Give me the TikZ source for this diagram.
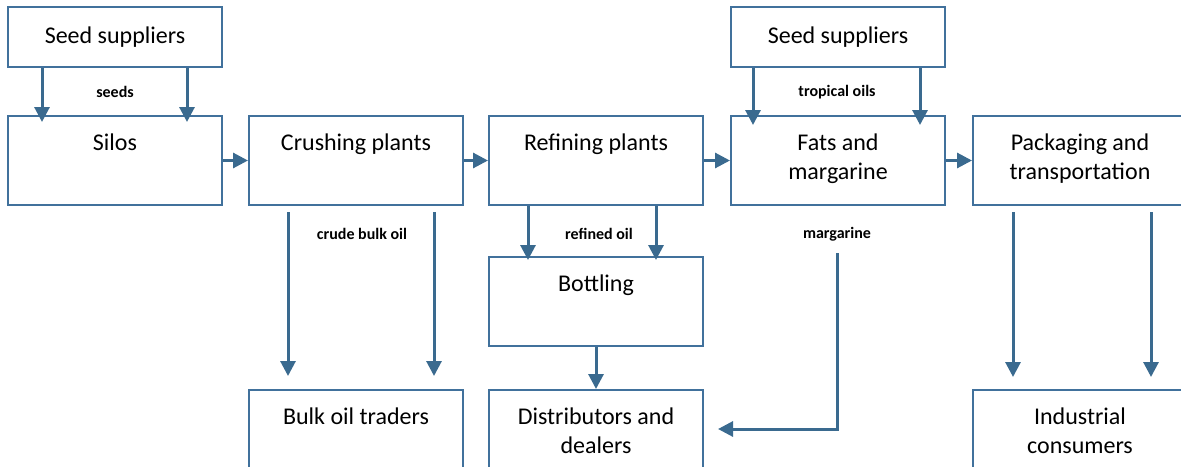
\documentclass[tikz,border=0pt]{standalone}
\usepackage{fontspec}
\setmainfont{Carlito}
\usetikzlibrary{arrows.meta,calc}
\definecolor{boxcol}{RGB}{65,113,156}
\definecolor{arrcol}{RGB}{58,106,143}
\begin{document}
\begin{tikzpicture}[x=0.5pt,y=-0.5pt,
  box/.style={draw=boxcol,line width=1pt,rectangle,minimum width=107pt,minimum height=44.5pt,inner sep=0pt},
  seedbox/.style={box,minimum height=30pt},
  txt/.style={label={[font=\fontsize{12}{14.5}\selectfont,align=center,anchor=base,yshift=-17.5pt,inner sep=0pt]north:#1}},
  txttwo/.style={label={[font=\fontsize{12}{14.5}\selectfont,align=center,anchor=base,yshift=-32pt,inner sep=0pt]north:#1}},
  flow/.style={draw=arrcol,line width=1.5pt,-{Triangle[length=7.5pt,width=7.5pt]}},
  lbl/.style={font=\fontsize{8}{9.6}\selectfont\bfseries,inner sep=0pt}]
\path[use as bounding box] (0,0) rectangle (1181,466);
\clip (0,0) rectangle (1181,466);
% boxes
\node[seedbox] (seedL) at (115,37) {};
\node at (seedL.center) [font=\fontsize{12}{14.5}\selectfont,inner sep=0pt,yshift=0pt] (seedLt) {Seed suppliers};
\node[seedbox] (seedR) at (838,37) {};
\node at (seedR.center) [font=\fontsize{12}{14.5}\selectfont,inner sep=0pt,yshift=0pt] (seedRt) {Seed suppliers};
\node[box,txt={Silos}] (silos) at (115,160.5) {};
\node[box,txt={Crushing plants}] (crush) at (356,160.5) {};
\node[box,txt={Refining plants}] (refine) at (596,160.5) {};
\node[box,txttwo={Fats and\\margarine}] (fats) at (838,160.5) {};
\node[box,txttwo={Packaging and\\transportation}] (pack) at (1080,160.5) {};
\node[box,txt={Bottling}] (bottle) at (596,301.5) {};
\node[box,txt={Bulk oil traders}] (bulk) at (356,434.5) {};
\node[box,txttwo={Distributors and\\dealers}] (dist) at (596,434.5) {};
\node[box,txttwo={Industrial\\consumers}] (ind) at (1080,434.5) {};
% labels
\node[lbl] (l1) at (115,92) {seeds};
\node[lbl] (l2) at (837,92) {tropical oils};
\node[lbl] (l3) at (362,234) {crude bulk oil};
\node[lbl] (l4) at (599,234) {refined oil};
\node[lbl] (l5) at (837,234) {margarine};
% arrows
\draw[flow] ($(seedL.south)+(-73,0)$) -- ($(silos.north)+(-73,7)$);
\draw[flow] ($(seedL.south)+(72,0)$) -- ($(silos.north)+(72,7)$);
\draw[flow] ($(seedR.south)+(-85,0)$) -- ($(fats.north)+(-85,10)$);
\draw[flow] ($(seedR.south)+(82,0)$) -- ($(fats.north)+(82,10)$);
\draw[flow] (silos.east) -- (crush.west);
\draw[flow] (crush.east) -- (refine.west);
\draw[flow] (refine.east) -- (fats.west);
\draw[flow] (fats.east) -- (pack.west);
\draw[flow] ($(crush.south)+(-68,6)$) -- ($(bulk.north)+(-68,-13)$);
\draw[flow] ($(crush.south)+(78,6)$) -- ($(bulk.north)+(78,-13)$);
\draw[flow] ($(refine.south)+(-68,0)$) -- ($(bottle.north)+(-68,4)$);
\draw[flow] ($(refine.south)+(60,0)$) -- ($(bottle.north)+(60,4)$);
\draw[flow] (bottle.south) -- (dist.north);
\draw[flow] ($(fats.south)+(-1,47)$) |- ($(dist.east)+(14,-5.5)$);
\draw[flow] ($(pack.south)+(-67,6)$) -- ($(ind.north)+(-67,-12)$);
\draw[flow] ($(pack.south)+(71,6)$) -- ($(ind.north)+(71,-12)$);
\end{tikzpicture}
\end{document}
